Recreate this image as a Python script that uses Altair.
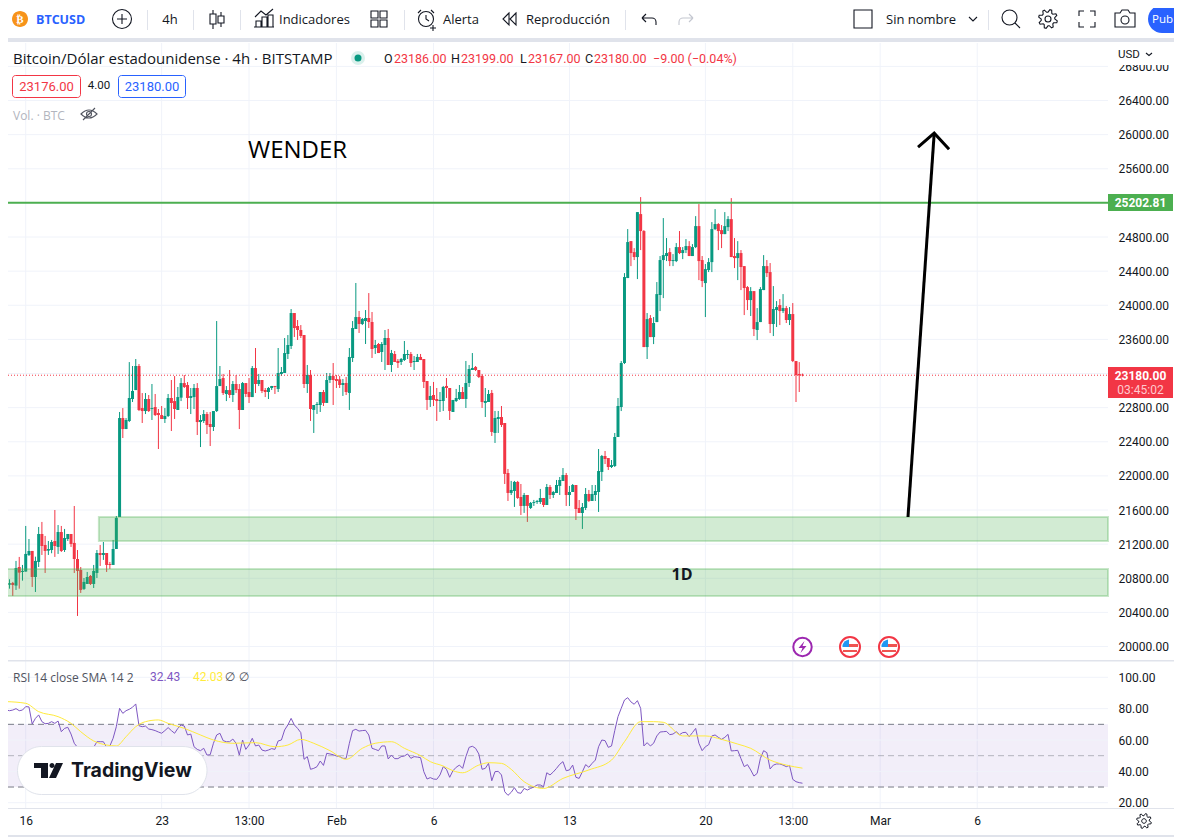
import json, math
import altair as alt
import pandas as pd

# ---------- candle data (USD), 4h bars from 15 Jan ----------
opens = [20963,20725,20745,20714,20932,20874,20878,21073,21120,20815,20991,21319,21190,21124,21131,21237,21167,21342,21131,21260,21319,21214,21026,20897,20675,20733,20827,20733,20862,21096,21073,21096,20967,20956,21143,21518,22678,22549,22643,22901,23006,23288,22795,22760,22901,22784,22807,22737,22713,22667,22702,22913,22877,22772,22917,23088,23065,22913,22924,23030,22631,22643,22725,22608,22573,22760,23053,23147,22960,23006,22948,23077,23018,22772,23088,22983,22924,23264,23077,23124,23006,22983,
23030,23054,23019,23194,23206,23429,23522,23909,23757,23710,23651,23077,23183,22773,22831,22831,22983,22855,23124,23171,23136,23132,23065,23089,22972,23382,23722,23862,23780,23815,23851,23804,23499,23546,23452,23534,23616,23300,23429,23347,23335,23358,23417,23429,23335,23335,23394,23370,23112,22890,22948,22901,22878,22878,23054,23030,22749,22878,22901,22983,22901,23089,23241,23276,23241,23171,22855,22866,22972,22503,22667,22690,22620,22034,21800,21823,21929,21753,21648,21776,21624,21683,21694,21694,
21741,21659,21870,21776,21799,21882,21940,22010,21776,21811,21893,21624,21565,21624,21788,21706,21776,21811,22046,22233,22209,22104,22116,22456,22807,23323,24319,24752,24623,24565,25069,24870,23510,23850,23627,23803,24120,24530,24577,24623,24518,24518,24682,24612,24647,24694,24577,24682,24928,24530,24260,24413,24506,24893,24952,24881,24834,24916,25010,24577,24553,24612,24459,24213,24061,24166,23710,23803,24178,24459,24389,23780,23944,24002,23932,23967,23827,23897,23346,23194,23186]
highs = [21015,20788,20757,21003,21050,20956,21413,21260,21120,21053,21401,21460,21296,21237,21249,21600,21424,21413,21378,21319,21319,21647,21131,20932,20803,20874,20838,20956,21131,21190,21225,21096,20991,21249,21530,22749,22795,22678,23334,23288,23370,23311,22971,22971,22948,23077,22960,22784,22819,22795,22960,23124,23170,23042,23147,23182,23100,23030,23077,23088,22713,22772,22749,22749,22760,23815,23288,23194,23053,23241,23112,23182,23077,23100,23088,23147,23288,23499,23194,23124,23030,23042,
23054,23054,23499,23276,23616,23651,23956,23909,23827,23768,23651,23300,23241,22831,22866,22983,23007,23206,23206,23323,23183,23171,23136,23159,23499,23815,24261,23933,23851,23944,24143,23921,23593,23558,23569,23710,23722,23476,23464,23370,23382,23581,23476,23452,23405,23429,23429,23370,23112,23054,23101,23030,22983,23054,23147,23030,22890,23019,23065,23042,23347,23300,23440,23288,23241,23194,23030,23007,23007,22761,22761,22819,22620,22081,21941,21941,21941,21905,21800,21776,21694,21718,21718,21847,
21741,21905,21893,21823,21952,21987,22092,22034,21882,21905,21893,21717,21682,21858,21835,21893,21893,22315,22245,22292,22209,22186,22503,22913,23346,24377,24893,24752,24670,25092,25268,24881,23909,23885,23862,24272,24577,25022,24788,24670,24600,24729,24870,24682,24776,24752,24717,25045,25186,24577,24483,24553,24975,25127,24963,24940,25092,25045,25256,24788,24752,24647,24459,24225,24213,24166,23967,24213,24588,24530,24495,24225,24049,24073,24131,23991,23979,24026,23346,23334,23199]
lows = [20561,20678,20593,20663,20678,20772,20878,21061,20698,20639,20932,21073,20862,21073,21093,21050,21085,21108,21108,21237,21167,20862,20358,20628,20663,20733,20721,20686,20803,20944,21015,20874,20909,20956,21143,21518,22444,22549,22631,22866,23006,22760,22620,22725,22749,22655,22702,22315,22667,22620,22690,22526,22667,22772,22877,23030,22784,22725,22784,22479,22338,22620,22491,22350,22526,22749,23053,22948,22877,22913,22866,22971,22549,22772,22924,22854,22924,22971,23053,22971,22924,22901,
23007,22960,22983,23171,23206,23370,23487,23628,23593,23616,23030,22972,22644,22503,22726,22749,22819,22855,23089,22831,23030,23030,22937,22948,22773,23335,23722,23675,23768,23546,23733,23382,23429,23440,23335,23241,23300,23218,23335,23265,23300,23347,23370,23276,23241,23335,23358,23030,22773,22808,22819,22644,22749,22761,22913,22655,22749,22866,22890,22901,22796,23042,23241,23229,23147,22796,22690,22866,22468,22386,22503,22573,21905,21706,21776,21636,21730,21542,21566,21460,21612,21648,21671,21671,
21635,21659,21729,21741,21799,21776,21940,21647,21647,21811,21483,21565,21378,21600,21694,21706,21706,21577,21940,22139,22069,22092,22104,22760,22760,23311,24319,24459,24530,24307,24647,23510,23370,23627,23545,23803,23932,24084,24518,24459,24459,24506,24600,24541,24612,24577,24577,24670,24295,24213,23862,24389,24389,24881,24647,24670,24834,24870,24565,24436,24295,24178,23885,23944,23874,23639,23592,23803,24178,24331,23674,23639,23745,23768,23909,23792,23768,23334,22866,22983,23167]
closes = [20729,20741,20721,20920,20866,20886,21085,21120,20815,21003,21319,21178,21120,21143,21225,21178,21342,21120,21272,21319,21202,21026,20886,20663,20757,20815,20733,20886,21096,21073,21096,20956,20956,21143,21507,22678,22549,22655,22913,22995,23288,22772,22760,22901,22760,22795,22713,22713,22667,22702,22913,22854,22784,22924,23088,23042,22913,22936,23030,22631,22655,22725,22596,22573,22760,23053,23135,22971,23006,22948,23077,23006,22772,23088,22960,22924,23264,23077,23124,22995,22983,23030,
23054,23042,23206,23218,23440,23534,23909,23733,23710,23640,23077,23183,22784,22831,22843,22983,22855,23124,23171,23124,23112,23065,23089,22983,23394,23733,23862,23780,23839,23851,23804,23487,23534,23440,23546,23616,23300,23440,23335,23323,23370,23429,23429,23323,23347,23394,23358,23101,22890,22937,22890,22878,22890,23042,23030,22761,22890,22913,22983,22901,23089,23253,23265,23241,23159,22866,22878,22960,22515,22679,22690,22597,22023,21800,21835,21929,21741,21648,21776,21648,21683,21694,21706,21741,
21659,21870,21776,21811,21893,21952,22010,21776,21811,21893,21612,21565,21635,21788,21706,21788,21823,22057,22233,22198,22104,22127,22456,22819,23323,24331,24741,24612,24565,25092,24870,23510,23838,23627,23792,24131,24530,24588,24612,24518,24530,24682,24612,24647,24694,24577,24682,24928,24518,24284,24424,24506,24893,24952,24870,24834,24928,25010,24565,24553,24612,24448,24202,24061,24166,23721,23803,24190,24459,24377,23780,23956,23979,23932,23967,23827,23897,23346,23182,23178,23180]

rsi_values = [79.1,78.7,79.1,80,78.7,79.1,81.3,81.1,70.2,73.8,76,71.7,70.4,70.6,71.7,70.6,72.1,65.3,67.4,68.1,63.8,57.9,55.3,49.4,47.7,48.3,50.4,55.3,58.9,58.9,58.9,55.3,56.2,61.1,68.5,80.2,77,78.7,79.6,80.9,83,69.1,68.5,68.9,67,66.6,66,65.1,64.3,66,67.9,66,64.3,67.4,69.6,68.9,63.2,63.8,55.7,54,53.2,54.7,50.4,50.6,57.9,63.2,64.3,59.6,58.9,58.9,60.6,57.9,50.4,60,54,56.8,61.1,56.2,56.8,53.6,53,53.6,54.5,54,59.4,60,66.4,69.6,73.8,69.6,67.4,64.7,47.7,49.4,41.3,41.9,43,46.6,43.8,51.5,51.1,50.6,49.8,49.4,48.3,48.3,57.9,66,66.8,65.7,66,66.2,63.2,54.7,54,53.2,56.2,56.2,47.9,50.4,48.1,48.1,49.4,49.8,51.1,48.3,49.4,49.1,48.7,
39.8,35.1,36,35.1,34.9,37.7,43,41.3,36.2,40.4,42.6,44,41.9,49.4,55.3,56,54.7,51.1,41.3,41.9,45.1,34,39.8,40,37.7,27,24.7,26.6,29.6,26.4,26,29.1,28.1,29.1,30,31.3,31.3,30.2,39.1,37.7,39.6,41.9,44.5,46.2,40.4,40.9,44,36.2,35.5,39.8,44.3,42.6,45.1,47.2,55.7,60,59.6,55.3,56.2,66,74.9,80.2,85.5,87,84.3,82.8,85.1,80.2,56.2,58.3,56.2,57.9,62.6,65.1,65.3,65.5,63.4,63.8,65.3,63.4,64.7,64.9,62.1,64.7,67.4,57.9,53.2,55.7,57,62.6,63.2,61.7,60.4,61.7,63.6,53,53.2,53.4,48.1,43,44.3,40.9,37,38.7,48.3,53.2,51.9,41.5,44,44.7,44.7,44,43,43.8,34.9,33.4,32.8,32.43]
ma_bars = [0,6,10,16,20,23,27,31,34,37,40,43,47,50,55,60,64,70,77,83,87,91,95,100,105,110,114,119,123,128,131,135,138,141,146,149,153,156,160,166,172,180,187,191,196,200,203,209,216,221,226,230,236,241,246]
ma_values = [84.5,83.4,78.1,74.9,70.6,65.3,59.4,56.8,56.2,62.1,68.5,71.7,72.8,70.6,67.4,63.2,60,57.9,58.3,55.7,56.8,60.4,57.9,53.2,47.7,54.7,57.9,58.9,54.7,50,46.2,43.4,40.4,39.1,44,45.5,45.1,41.3,33.4,29.1,35.5,40.9,47.2,58.9,71.7,71.7,71.3,62.6,62.6,60.4,57.4,54.7,47.2,44,42.03]

price_ticks = [20000+400*i for i in range(18)]
hidden_price_labels = [23200,25200]
rsi_ticks = [100,80,60,40,20]
x_tick_bars = [6,48,75,102,132,174,216,243,270,300]
x_tick_labels = ["16","23","13:00","Feb","6","13","20","13:00","Mar","6"]
zones = [{"x":28.6,"x2":340.4,"top":21518,"bottom":21236},{"x":-5,"x2":340.4,"top":20908,"bottom":20592}]
arrow_bars = [278.6,286.7]; arrow_prices = [21518,26018]
head_bars = [281.7,286.7,291.3]; head_prices = [25854,26018,25830]
resistance = 25202.81; last_price = 23180

assert len(opens)==len(highs)==len(lows)==len(closes)==len(rsi_values)==247

FONT="Open Sans"; NUM="Roboto"
GREEN="#089981"; RED="#f23645"; INK="#131722"; GRID="#f0f3fa"; BAND="#e0e3eb"; PURPLE="#7e57c2"; YELLOW="#ffeb3b"; LINE="#4caf50"
W,H=1166,829
AX_OFF=-(W-1100)

candles=pd.DataFrame({"bar":range(247),"o":opens,"h":highs,"l":lows,"c":closes})
candles["up"]=candles.c>candles.o

label_map=json.dumps({str(k):v for k,v in zip(x_tick_bars,x_tick_labels)})
xscale=alt.Scale(domain=[0,340.4],range=[-1.7,1100],nice=False,zero=False,padding=0)
xaxis=alt.Axis(values=x_tick_bars,labelExpr=f"{label_map}[''+datum.value]",orient="bottom",offset=-29,title=None,
               grid=False,ticks=False,domain=False,labelPadding=7,labelFont=NUM,labelFontSize=12,labelColor=INK,labelOverlap=False,labelFlush=False,labelBound=False)
X=lambda f="bar": alt.X(f"{f}:Q",scale=xscale,axis=xaxis)
pscale=alt.Scale(domain=[20000,26800],range=[638.5,58.4],nice=False,zero=False)
paxis=alt.Axis(values=[t for t in price_ticks if t not in hidden_price_labels],format=".2f",orient="right",offset=AX_OFF,title=None,grid=False,ticks=False,domain=False,labelPadding=10,labelFont=NUM,labelFontSize=12,labelColor=INK,labelOverlap=False,labelBound=False,labelFlush=False)
P=lambda f: alt.Y(f"{f}:Q",scale=pscale,axis=paxis)
rscale=alt.Scale(domain=[20,100],range=[794.7,669.3],nice=False,zero=False)
raxis=alt.Axis(values=rsi_ticks,format=".2f",orient="right",offset=AX_OFF,title=None,grid=False,ticks=False,domain=False,labelPadding=10,labelFont=NUM,labelFontSize=12,labelColor=INK,labelOverlap=False,labelBound=False,labelFlush=False)
R=lambda f: alt.Y(f"{f}:Q",scale=rscale,axis=raxis)
ONE=pd.DataFrame({"a":[0]})
colour=alt.condition("datum.up",alt.value(GREEN),alt.value(RED))

# ---- price pane
p_hgrid=alt.Chart(pd.DataFrame({"p":price_ticks})).mark_rule(color=GRID,strokeWidth=1).encode(y=P("p"),x=alt.value(0),x2=alt.value(1100))
vgrid=alt.Chart(pd.DataFrame({"bar":x_tick_bars})).mark_rule(color=GRID,strokeWidth=1).encode(x=X(),y=alt.value(35),y2=alt.value(800))
wicks=alt.Chart(candles).mark_rule(strokeWidth=1).encode(x=X(),y=P("l"),y2="h:Q",color=colour)
bodies=alt.Chart(candles).mark_bar(size=3).encode(x=X(),y=P("o"),y2="c:Q",color=colour)
lastline=alt.Chart(pd.DataFrame({"p":[last_price]})).mark_rule(color=RED,strokeWidth=1,strokeDash=[1,2]).encode(y=P("p"),x=alt.value(0),x2=alt.value(1100))
zone=alt.Chart(pd.DataFrame(zones)).mark_rect(fill=LINE,fillOpacity=0.25,stroke=LINE,strokeOpacity=0.3,strokeWidth=2).encode(x=X("x"),x2="x2:Q",y=P("top"),y2="bottom:Q")
resist=alt.Chart(pd.DataFrame({"p":[resistance]})).mark_rule(color=LINE,strokeWidth=2).encode(y=P("p"),x=alt.value(0),x2=alt.value(1100))
arrow=alt.Chart(pd.DataFrame({"bar":arrow_bars,"p":arrow_prices})).mark_line(color="#000000",strokeWidth=3).encode(x=X(),y=P("p"))
head=alt.Chart(pd.DataFrame({"bar":head_bars,"p":head_prices,"o":[0,1,2]})).mark_line(color="#000000",strokeWidth=3).encode(x=X(),y=P("p"),order="o:Q")
price_pane=alt.layer(p_hgrid,vgrid,wicks,bodies,lastline,zone,resist,arrow,head)

# ---- RSI pane
band=alt.Chart(pd.DataFrame({"t":[70],"b":[30]})).mark_rect(fill=PURPLE,fillOpacity=0.1).encode(y=R("t"),y2="b:Q",x=alt.value(0),x2=alt.value(1100))
r_hgrid=alt.Chart(pd.DataFrame({"v":rsi_ticks})).mark_rule(color=GRID).encode(y=R("v"),x=alt.value(0),x2=alt.value(1100))
dash=alt.Chart(pd.DataFrame({"v":[70,30]})).mark_rule(color="#787b86",strokeDash=[6,4]).encode(y=R("v"),x=alt.value(0),x2=alt.value(1100))
dash50=alt.Chart(pd.DataFrame({"v":[50]})).mark_rule(color="#787b86",strokeOpacity=0.5,strokeDash=[6,4]).encode(y=R("v"),x=alt.value(0),x2=alt.value(1100))
rsi_line=alt.Chart(pd.DataFrame({"bar":range(247),"v":rsi_values})).mark_line(color=PURPLE,strokeWidth=1).encode(x=X(),y=R("v"))
ma_line=alt.Chart(pd.DataFrame({"bar":ma_bars,"v":ma_values})).mark_line(color=YELLOW,strokeWidth=1,interpolate="monotone").encode(x=X(),y=R("v"))
rsi_pane=alt.layer(band,r_hgrid,dash,dash50,rsi_line,ma_line)

# ---- page furniture
def v(x,y): return dict(x=alt.value(x-8),y=alt.value(y-8))
def txt(s,x,y,size=13,color=INK,weight="normal",align="left",font=FONT):
    dy = 1 if font==FONT else 0
    return alt.Chart(ONE).mark_text(font=font,fontSize=size,color=color,fontWeight=weight,align=align,baseline="middle").encode(text=alt.value(s),**v(x,y+dy))
def box(x0,y0,x1,y1,fill,stroke=None,r=0,sw=1):
    kw=dict(fill=fill,cornerRadius=r,strokeWidth=sw)
    if stroke: kw["stroke"]=stroke
    return alt.Chart(ONE).mark_rect(**kw).encode(x=alt.value(x0-8),x2=alt.value(x1-8),y=alt.value(y0-8),y2=alt.value(y1-8))
def icon(path,x,y,color=INK,fill=False,sw=1.1):
    kw=dict(shape=path,size=4,opacity=1,strokeWidth=sw)
    if fill: kw.update(filled=True,fill=color,stroke=color,strokeWidth=0)
    else: kw.update(filled=False,stroke=color)
    return alt.Chart(ONE).mark_point(**kw).encode(**v(x,y))
def circ(r,cx=0,cy=0):
    return f"M{cx-r},{cy}A{r},{r} 0 1,1 {cx+r},{cy}A{r},{r} 0 1,1 {cx-r},{cy}Z"
def gearpath(a,b,h):
    return "".join(("M" if i==0 else "L")+f"{(a if i%4<2 else b)*math.cos(i*math.pi/16+0.2):.1f},{(a if i%4<2 else b)*math.sin(i*math.pi/16+0.2):.1f}" for i in range(32))+"Z"+circ(h)

furn=[
 box(8,38,1174,42,BAND), box(8,660,1174,661.5,BAND), box(8,808,1174,809,BAND), box(8,835,1174,837,BAND),
 box(1109,43,1174,65,"#ffffff"),
 txt("USD",1118,55,11.5,font=NUM), icon("M-3,-1L0,1.5L3,-1",1149,54),
 icon(circ(8),20,19,"#f7931a",fill=True), txt("₿",20,19.5,11,"#ffffff","bold","center","DejaVu Sans"),
 txt("BTCUSD",36,18.5,12.5,"#2962ff","bold"),
 icon(circ(9.5)+"M-5,0H5M0,-5V5",122,19),
 *[box(x,10,x+1,30,BAND) for x in (147,193,240,404,625,988)],
 txt("4h",170,18.5,13,align="center"),
 icon("M-3,-9V-5M-3,5V10M-6,-5H0V5H-6ZM5,-7V-3M5,4V8M2,-3H8V4H2Z",216,19),
 icon("M-10,9H10M-8,9V3H-3V9M-2,9V-1H3V9M4,9V-3H9V9M-9,-1L-3,-7L2,-3L9,-9",264,18),
 txt("Indicadores",279,18.5,13),
 icon("M-8,-8H-1V-1H-8ZM1,-8H8V-1H1ZM-8,1H-1V8H-8ZM1,1H8V8H1Z",379,19),
 icon(circ(7.5)+"M0,-4V0L3,2M-8,-6L-5,-9M8,-6L5,-9M7,6V12M4,9H10",426,19),
 txt("Alerta",443,18.5,13),
 icon("M-1,-6L-7,0L-1,6ZM6,-6L0,0L6,6Z",510,19),
 txt("Reproducción",526,18.5,13),
 icon("M-7,-1L-3,-5M-7,-1L-3,3M-7,-1H3A4,4 0 0 1 7,3V6",649,19),
 icon("M7,-1L3,-5M7,-1L3,3M7,-1H-3A4,4 0 0 0 -7,3V6",686,19,"#c4c7d0"),
 icon("M-9,-9H9V9H-9Z",863,19),
 txt("Sin nombre",886,18.5,13), icon("M-4,-2L0,2L4,-2",973,19),
 icon(circ(7.5,-1.5,-1.5)+"M4,4L9,9",1011,19),
 icon(gearpath(9.5,6.8,3),1048,19),
 icon("M-8,-3V-8H-3M3,-8H8V-3M8,3V8H3M-3,8H-8V3",1087,19),
 icon("M-10,-6H-5L-3,-9H3L5,-6H10V8H-10Z"+circ(4,0,1),1125,19),
 box(1148,5,1200,33,"#2962ff",r=14), txt("Pub",1152,18.5,11.5,"#ffffff"),

 txt("Bitcoin/Dólar estadounidense · 4h · BITSTAMP",13,57.5,15),
 alt.Chart(ONE).mark_circle(size=196,color=GREEN,opacity=0.15).encode(**v(358,58)),
 alt.Chart(ONE).mark_circle(size=49,color=GREEN,opacity=1).encode(**v(358,58)),
 txt("O",384,59,12.5,font=NUM), txt("23186.00",394,59,12.5,RED,font=NUM), txt("H",451,59,12.5,font=NUM), txt("23199.00",461,59,12.5,RED,font=NUM),
 txt("L",520,59,12.5,font=NUM), txt("23167.00",528,59,12.5,RED,font=NUM), txt("C",585,59,12.5,font=NUM), txt("23180.00",594,59,12.5,RED,font=NUM), txt("−9.00 (−0.04%)",653,59,12.5,RED,font=NUM),
 box(12.5,75.5,80.5,97.5,"#ffffff",RED,3), txt("23176.00",46.5,86.5,13,RED,align="center",font=NUM),
 txt("4.00",99,86,11.5,align="center",font=NUM),
 box(118.5,75.5,185.5,97.5,"#ffffff","#2962ff",3), txt("23180.00",152,86.5,13,"#2962ff",align="center",font=NUM),
 txt("Vol. · BTC",13,115,12,"#b2b5be"),
 icon("M-8,0Q0,-8 8,0Q0,8 -8,0Z"+circ(2.5)+"M-6,6L6,-6",89,114,"#50535e"),

 txt("WENDER",248,150,24,"#000000"), txt("1D",682,574,16,INK,"bold","center"),

 box(1108,194,1173,211,LINE), txt("25202.81",1140.5,202.5,12,"#ffffff","bold","center",NUM),
 box(1108,367,1173,398,RED), txt("23180.00",1140.5,375.5,12,"#ffffff","bold","center",NUM), txt("03:45:02",1140.5,389.5,12,"#ffc9ce",align="center",font=NUM),

 alt.Chart(ONE).mark_circle(size=340,color="#ffffff",opacity=1,stroke="#9c27b0",strokeWidth=2).encode(**v(802.5,647)),
 icon("M2,-6L-4,1H0L-2,6L4,-1H0Z",802.5,647,"#9c27b0",fill=True),
]
for fx in (850,889):
    furn+= [alt.Chart(ONE).mark_circle(size=400,color="#ffffff",opacity=1,stroke=RED,strokeWidth=2).encode(**v(fx,647)),
            icon("M-7.5,0V-2A8,8 0 0 1 -1,-7.5V0Z",fx,647,"#2196f3",fill=True),
            icon("M-1,-3H8V0H-1ZM-7,3H7V5H-7Z",fx,647,"#ef5350",fill=True)]
furn+=[
 txt("RSI 14 close SMA 14 2",13,676.5,12,"#50535e"), txt("32.43",150,677,12,PURPLE,font=NUM), txt("42.03",193,677,12,YELLOW,font=NUM),
 txt("∅",230,677,12,"#50535e",align="center",font="DejaVu Sans"), txt("∅",244,677,12,"#50535e",align="center",font="DejaVu Sans"),
 box(17.5,746.5,207,794.5,"#ffffff",BAND,24),
 icon("M-14,-8H0V7H-7V-3H-14Z"+circ(2.5,4,-5.5)+"M8,-8H15L8,7H1Z",48,771,INK,fill=True),
 txt("TradingView",71,771,19.5,INK,"bold",font="Inter"),
 icon(gearpath(7.5,5.3,2.3),1144,821,INK,sw=1),
]
chrome=alt.layer(*furn)

chart=alt.layer(price_pane,rsi_pane,chrome).resolve_scale(y="independent").properties(
    width=W,height=H,padding=0,autosize=alt.AutoSizeParams(type="none"),background="#ffffff"
).configure_view(stroke=None)
chart.save("out.html",embed_options={"renderer":"svg","actions":False})
